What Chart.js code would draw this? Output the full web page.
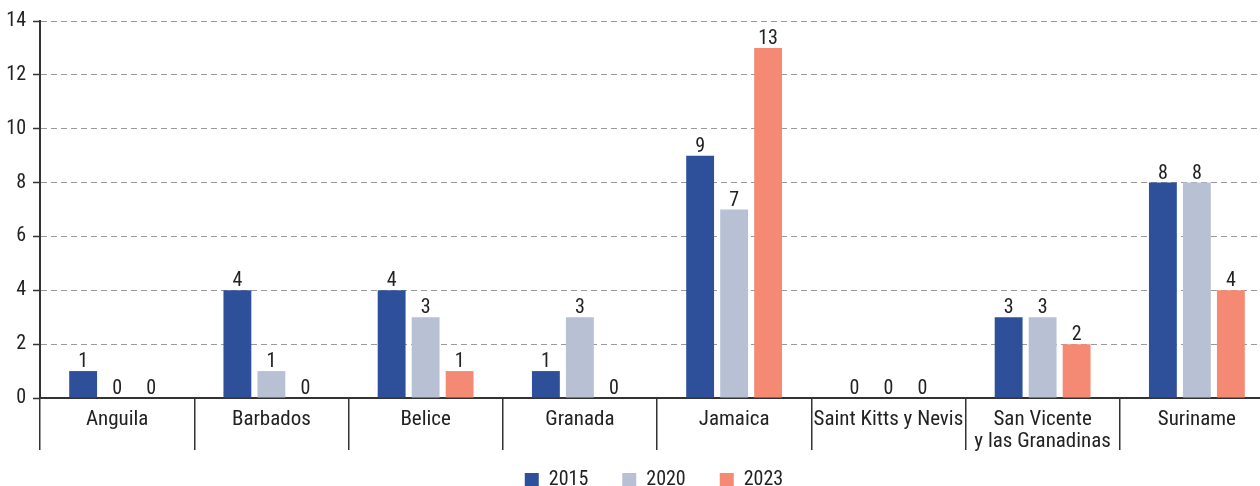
<!DOCTYPE html>
<html>
<head>
<meta charset="utf-8">
<script src="https://cdn.jsdelivr.net/npm/chart.js@4/dist/chart.umd.min.js"></script>
<style>
html,body{margin:0;padding:0;overflow:hidden;background:#fff;width:1260px;height:486px;}
canvas{display:block;}
</style>
</head>
<body>
<canvas id="c" width="1302" height="500"></canvas>
<script>
const categories = ['Anguila','Barbados','Belice','Granada','Jamaica','Saint Kitts y Nevis',['San Vicente','y las Granadinas'],'Suriname'];
const seriesNames = ['2015','2020','2023'];
const values2015 = [1,4,4,1,9,0,3,8];
const values2020 = [0,1,3,3,7,0,3,8];
const values2023 = [0,0,1,0,13,0,2,4];
const yTicks = [0,2,4,6,8,10,12,14];

const FONT = "'Liberation Sans Narrow','Roboto Condensed','DejaVu Sans Condensed',sans-serif";
const colors = ['#2E4F9A','#B8C1D3','#F58A74'];

const valueLabels = {
  id:'valueLabels',
  afterDatasetsDraw(chart){
    const ctx = chart.ctx;
    ctx.save();
    ctx.font = '20px ' + FONT;
    ctx.fillStyle = '#222';
    ctx.textAlign = 'center';
    ctx.textBaseline = 'alphabetic';
    chart.data.datasets.forEach((ds,i)=>{
      const meta = chart.getDatasetMeta(i);
      meta.data.forEach((bar,j)=>{
        ctx.fillText(String(ds.data[j]), bar.x, bar.y - 4);
      });
    });
    ctx.restore();
  }
};

const legendShift = {
  id:'legendShift',
  afterLayout(chart){
    const lg = chart.legend;
    if (lg) { lg.left += 17; lg.right += 17; }
  }
};

new Chart(document.getElementById('c'), {
  type:'bar',
  data:{
    labels:categories,
    datasets:[
      {label:seriesNames[0], data:values2015, backgroundColor:colors[0]},
      {label:seriesNames[1], data:values2020, backgroundColor:colors[1]},
      {label:seriesNames[2], data:values2023, backgroundColor:colors[2]}
    ]
  },
  options:{
    responsive:false,
    animation:false,
    devicePixelRatio:1,
    categoryPercentage:0.661,
    barPercentage:0.82,
    layout:{padding:{top:21,right:28,left:0,bottom:0}},
    plugins:{
      tooltip:{enabled:false},
      legend:{
        position:'bottom',
        labels:{
          boxWidth:14, boxHeight:14, padding:34,
          color:'#222',
          font:{family:FONT,size:20}
        }
      }
    },
    scales:{
      x:{
        offset:true,
        grid:{display:true, drawOnChartArea:false, drawTicks:true, tickLength:52, color:'#333', lineWidth:1.5, offset:true},
        border:{display:true, color:'#333', width:2},
        ticks:{padding:-41, color:'#222', maxRotation:0, autoSkip:false, font:{family:FONT,size:21,lineHeight:1.05}},
        afterFit(s){ s.height = 38; s._computeLabelArea = function(){ return undefined; }; }
      },
      y:{
        min:0, max:14,
        afterBuildTicks(s){ s.ticks = yTicks.map(v=>({value:v})); },
        grid:{color:'#9a9a9a', lineWidth:1, drawTicks:true, tickLength:7, tickColor:'#333', tickBorderDash:[], tickWidth:1.5},
        border:{display:true, color:'#333', width:2, dash:[6,4]},
        ticks:{padding:7, color:'#222', font:{family:FONT,size:20}},
        afterFit(s){ s.width = 40; }
      }
    }
  },
  plugins:[valueLabels, legendShift]
});
</script>
</body>
</html>
